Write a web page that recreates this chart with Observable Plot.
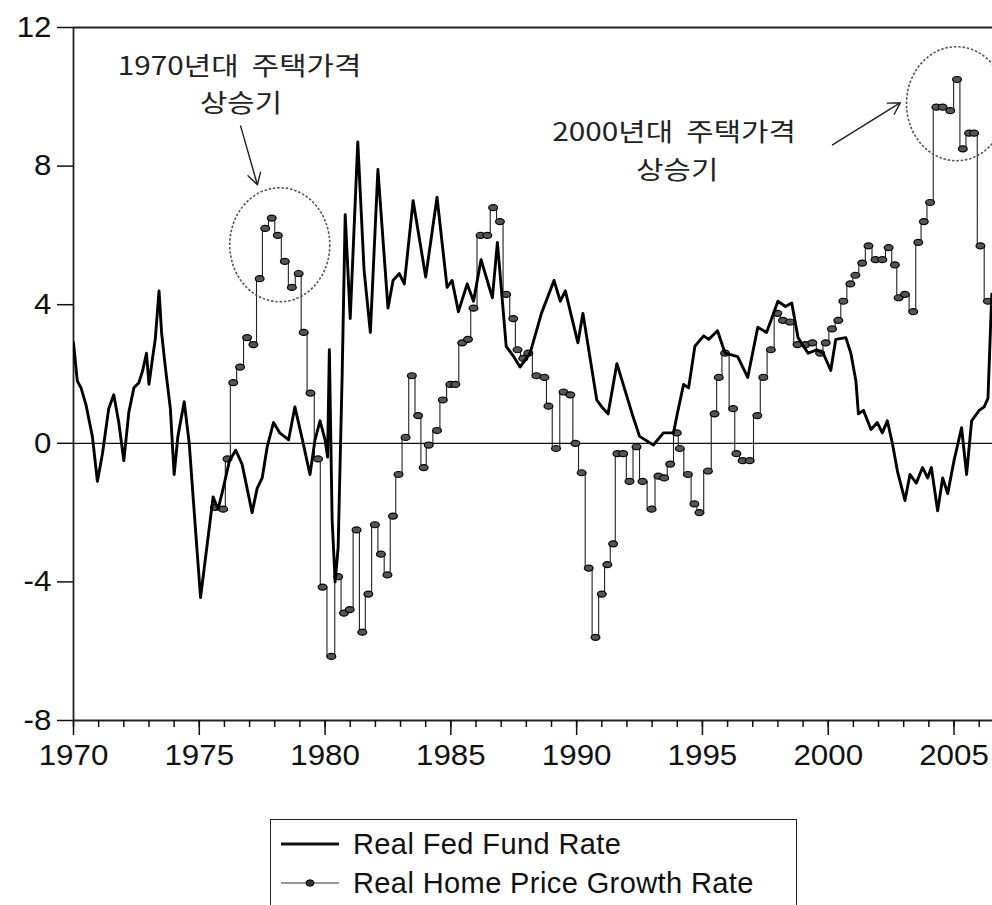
<!DOCTYPE html>
<html><head><meta charset="utf-8">
<script src="https://cdn.jsdelivr.net/npm/d3@7"></script>
<script src="https://cdn.jsdelivr.net/npm/@observablehq/plot@0.6"></script>
<style>
body{margin:0;background:#fff;font-family:"Liberation Sans",Arial,sans-serif;}
#wrap{position:relative;width:992px;height:905px;overflow:hidden;background:#fff;}
#legend{position:absolute;left:270px;top:819px;width:527px;height:120px;border:1.6px solid #222;box-sizing:border-box;background:#fff;}
.row{position:absolute;left:8px;height:30px;display:flex;align-items:center;font-size:29px;letter-spacing:0.4px;color:#111;white-space:nowrap;}
.row svg{margin-right:12px;}
</style></head><body>
<div id="wrap"><div id="chart"></div>
<div id="legend">
  <div class="row" style="top:9px"><svg width="62" height="20"><line x1="2" x2="60" y1="10" y2="10" stroke="#111" stroke-width="3"/></svg><span id="lg1"></span></div>
  <div class="row" style="top:48px"><svg width="62" height="20"><line x1="2" x2="60" y1="10" y2="10" stroke="#333" stroke-width="1.2"/><ellipse cx="31" cy="10" rx="4" ry="3.2" fill="#333" stroke="#000"/></svg><span id="lg2"></span></div>
</div></div>
<script>
// ---- data ----
const seriesNames = ["Real Fed Fund Rate", "Real Home Price Growth Rate"];

const fedYears = [1970.0,1970.15,1970.3,1970.5,1970.75,1970.95,1971.15,1971.4,1971.6,1971.8,1972.0,1972.2,1972.4,1972.6,1972.75,1972.9,1973.0,1973.15,1973.25,1973.4,1973.5,1973.65,1973.85,1974.0,1974.15,1974.4,1974.6,1974.8,1975.05,1975.3,1975.55,1975.75,1975.95,1976.2,1976.45,1976.7,1977.1,1977.3,1977.5,1977.7,1977.95,1978.2,1978.55,1978.8,1979.1,1979.4,1979.6,1979.8,1980.0,1980.1,1980.17,1980.28,1980.4,1980.52,1980.68,1980.8,1981.0,1981.3,1981.55,1981.8,1982.1,1982.5,1982.7,1982.95,1983.15,1983.5,1984.0,1984.45,1984.85,1985.05,1985.3,1985.65,1985.9,1986.2,1986.65,1986.85,1987.2,1987.5,1987.75,1988.15,1988.6,1989.1,1989.35,1989.55,1990.05,1990.25,1990.8,1991.0,1991.25,1991.6,1992.25,1992.5,1993.05,1993.45,1993.85,1994.0,1994.25,1994.45,1994.7,1995.05,1995.25,1995.6,1995.9,1996.4,1996.8,1997.2,1997.55,1998.0,1998.3,1998.55,1998.8,1999.2,1999.55,1999.8,2000.1,2000.3,2000.7,2000.9,2001.1,2001.2,2001.4,2001.7,2001.95,2002.15,2002.35,2002.55,2002.75,2003.05,2003.25,2003.5,2003.75,2003.95,2004.1,2004.35,2004.55,2004.75,2005.0,2005.3,2005.5,2005.7,2006.0,2006.2,2006.35,2006.5];
const fedValues = [2.9,1.8,1.6,1.1,0.2,-1.1,-0.3,1.0,1.4,0.6,-0.5,0.9,1.6,1.75,2.1,2.6,1.7,2.5,3.0,4.4,3.2,2.2,1.0,-0.9,0.2,1.2,0.0,-2.0,-4.45,-3.0,-1.55,-1.9,-1.3,-0.5,-0.2,-0.6,-2.0,-1.3,-1.0,-0.1,0.6,0.3,0.1,1.05,0.1,-0.9,0.1,0.65,0.1,-0.4,2.7,-2.2,-4.0,-3.0,2.0,6.6,3.6,8.7,5.0,3.2,7.9,3.9,4.7,4.9,4.6,7.0,4.8,7.1,4.5,4.7,3.8,4.6,4.1,5.3,4.2,5.8,2.8,2.5,2.2,2.6,3.75,4.7,4.1,4.4,2.9,3.75,1.25,1.05,0.85,2.3,0.75,0.2,-0.05,0.3,0.3,0.85,1.7,1.6,2.8,3.1,3.0,3.25,2.6,2.5,1.9,3.35,3.2,4.1,3.95,4.05,3.05,2.6,2.7,2.6,2.1,3.0,3.05,2.6,1.8,0.85,0.95,0.4,0.6,0.3,0.65,0.0,-0.8,-1.65,-0.9,-1.15,-0.7,-1.0,-0.7,-1.95,-1.0,-1.45,-0.5,0.45,-0.9,0.65,0.95,1.05,1.3,4.3];

const hpYears = [1975.62,1975.95,1976.12,1976.35,1976.62,1976.9,1977.15,1977.4,1977.62,1977.88,1978.12,1978.4,1978.68,1978.95,1979.15,1979.42,1979.72,1979.9,1980.25,1980.52,1980.75,1980.98,1981.25,1981.48,1981.72,1981.98,1982.22,1982.48,1982.7,1982.92,1983.2,1983.45,1983.7,1983.92,1984.12,1984.45,1984.68,1984.98,1985.18,1985.45,1985.68,1985.9,1986.18,1986.45,1986.68,1986.95,1987.2,1987.48,1987.65,1987.88,1988.08,1988.4,1988.72,1988.88,1989.18,1989.48,1989.75,1989.95,1990.2,1990.48,1990.75,1991.0,1991.22,1991.45,1991.62,1991.85,1992.1,1992.38,1992.62,1992.98,1993.25,1993.48,1993.72,1993.98,1994.1,1994.42,1994.68,1994.88,1995.22,1995.48,1995.65,1995.9,1996.22,1996.35,1996.6,1996.88,1997.18,1997.42,1997.72,1997.98,1998.2,1998.48,1998.78,1999.1,1999.37,1999.68,1999.9,2000.15,2000.4,2000.6,2000.88,2001.08,2001.35,2001.6,2001.88,2002.15,2002.4,2002.65,2002.8,2003.05,2003.38,2003.58,2003.8,2004.05,2004.3,2004.55,2004.85,2005.12,2005.35,2005.6,2005.8,2006.05,2006.35];
const hpValues = [-1.85,-1.9,-0.45,1.75,2.2,3.05,2.85,4.75,6.2,6.5,6.0,5.25,4.5,4.9,3.2,1.45,-0.45,-4.15,-6.15,-3.85,-4.9,-4.8,-2.5,-5.45,-4.35,-2.35,-3.2,-3.8,-2.1,-0.9,0.17,1.95,0.8,-0.7,-0.05,0.37,1.25,1.7,1.7,2.9,3.0,3.9,6.0,6.0,6.8,6.4,4.3,3.6,2.7,2.45,2.6,1.95,1.9,1.07,-0.15,1.48,1.4,0.0,-0.85,-3.6,-5.6,-4.35,-3.5,-2.9,-0.3,-0.3,-1.1,-0.1,-1.1,-1.9,-0.95,-1.0,-0.6,0.3,-0.15,-0.9,-1.75,-2.0,-0.8,0.85,1.9,2.6,1.0,-0.3,-0.5,-0.5,0.8,1.9,2.7,3.75,3.55,3.5,2.85,2.85,2.9,2.6,2.9,3.3,3.55,4.1,4.6,4.85,5.2,5.7,5.3,5.3,5.65,5.15,4.2,4.3,3.8,5.8,6.4,6.95,9.7,9.7,9.6,10.5,8.5,8.95,8.95,5.7,4.1];

const xMajorTicks = [1970,1975,1980,1985,1990,1995,2000,2005];
const xMinorTicks = [1970,1971,1972,1973,1974,1975,1976,1977,1978,1979,1980,1981,1982,1983,1984,1985,1986,1987,1988,1989,1990,1991,1992,1993,1994,1995,1996,1997,1998,1999,2000,2001,2002,2003,2004,2005,2006];
const yTicks = [-8,-4,0,4,8,12];

const noteTexts = ["1970년대  주택가격", "상승기", "2000년대  주택가격", "상승기"];
const noteX = [1976.6, 1976.66, 1993.87, 1994.0];
const noteY = [10.87, 9.8, 8.96, 7.86];
const circleX = [1978.2, 2005.1];
const circleY = [5.73, 9.8];
const arrowFrom = [[1976.64, 9.16], [2000.17, 8.61]];
const arrowTo = [[1977.31, 7.46], [2002.87, 9.83]];

// ---- tables ----
const fed = fedYears.map((x, i) => ({x, y: fedValues[i]}));
const hp = hpYears.map((x, i) => ({x, y: hpValues[i]}));
const notes = noteTexts.map((t, i) => ({t, x: noteX[i], y: noteY[i]}));
const circles = circleX.map((x, i) => ({x, y: circleY[i]}));
const arrows = arrowFrom.map((a, i) => ({x1: a[0], y1: a[1], x2: arrowTo[i][0], y2: arrowTo[i][1]}));

function ellipseSymbol(rx, ry) {
  const k = 0.5523;
  return {draw(c) {
    c.moveTo(rx, 0);
    c.bezierCurveTo(rx, k*ry, k*rx, ry, 0, ry);
    c.bezierCurveTo(-k*rx, ry, -rx, k*ry, -rx, 0);
    c.bezierCurveTo(-rx, -k*ry, -k*rx, -ry, 0, -ry);
    c.bezierCurveTo(k*rx, -ry, rx, -k*ry, rx, 0);
    c.closePath();
  }};
}

const chart = Plot.plot({
  width: 992, height: 780,
  marginLeft: 73, marginRight: 0, marginTop: 27, marginBottom: 60,
  style: {fontFamily: "'Liberation Sans', Arial, sans-serif", fontSize: "29px", color: "#111", background: "#fff"},
  x: {domain: [1970, 2006.53], label: null},
  y: {domain: [-8, 12], label: null},
  marks: [
    Plot.ruleY([12, -8], {stroke: "#222", strokeWidth: 2}),
    Plot.ruleX([1970], {stroke: "#222", strokeWidth: 1.8}),
    Plot.ruleY([0], {stroke: "#111", strokeWidth: 1.3}),
    Plot.axisX({ticks: xMinorTicks, tickSize: 7, tickFormat: () => "", strokeWidth: 1.5}),
    Plot.axisX({ticks: xMajorTicks, tickSize: 15, tickPadding: 9, tickFormat: d => String(d), fontSize: 29, strokeWidth: 1.5}),
    Plot.axisY({ticks: yTicks, tickSize: 16, tickPadding: 6, tickFormat: d => String(d), fontSize: 29, strokeWidth: 1.5}),
    Plot.line(hp, {x: "x", y: "y", curve: "step", stroke: "#222", strokeWidth: 1.1, clip: true}),
    Plot.dot(hp, {x: "x", y: "y", symbol: ellipseSymbol(4.4, 3), fill: "#555", stroke: "#000", strokeWidth: 1.2, clip: true}),
    Plot.line(fed, {x: "x", y: "y", stroke: "#000", strokeWidth: 2.9, strokeLinejoin: "round", clip: true}),
    Plot.dot(circles, {x: "x", y: "y", symbol: ellipseSymbol(50, 57), fill: "none", stroke: "#555", strokeWidth: 1.6, strokeDasharray: "2.5,1.8"}),
    Plot.arrow(arrows, {x1: "x1", y1: "y1", x2: "x2", y2: "y2", stroke: "#222", strokeWidth: 1.4, headLength: 14}),
    Plot.text(notes, {x: "x", y: "y", text: "t", fontSize: 25, fontFamily: "'Noto Sans CJK KR', sans-serif", fill: "#222"})
  ]
});
document.getElementById("chart").appendChild(chart);
// the scanned original is slightly stretched horizontally: widen the glyphs to match
function stretch(sel, factor) {
  d3.select(chart).selectAll(sel).each(function() {
    const w = this.getComputedTextLength();
    if (w > 0) {
      this.setAttribute("textLength", (w * factor).toFixed(1));
      this.setAttribute("lengthAdjust", "spacingAndGlyphs");
    }
  });
}
stretch('g[aria-label$="tick label"] text', 1.08);
stretch('g[aria-label="text"] text', 1.19);
document.getElementById("lg1").textContent = seriesNames[0];
document.getElementById("lg2").textContent = seriesNames[1];
</script>
</body></html>
